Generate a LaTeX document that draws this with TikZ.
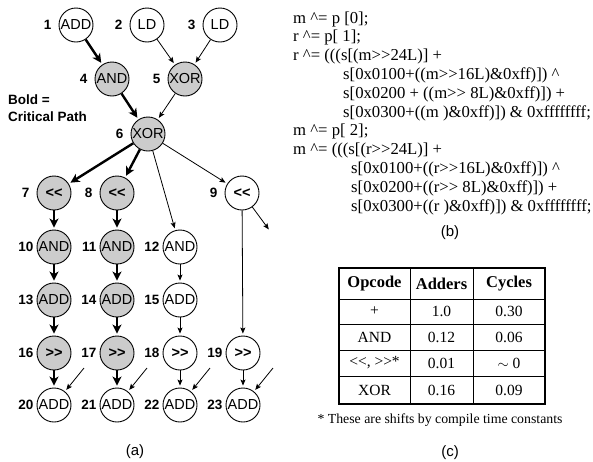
\documentclass[tikz,border=0pt]{standalone}
\usepackage{fontspec}
\setmainfont{Liberation Serif}
\setsansfont{Liberation Sans}
\usepackage{tikz}
\usetikzlibrary{positioning,calc,arrows.meta}

\newcommand{\shl}{<\kern0pt<}
\newcommand{\shr}{>\kern0pt>}

\tikzset{
  op/.style={circle,draw,line width=0.9pt,minimum size=34pt,inner sep=0pt,
    font=\sffamily\fontsize{14.5}{15}\selectfont},
  crit/.style={op,fill=black!20},
  num/.style={font=\sffamily\bfseries\fontsize{13.5}{14}\selectfont,inner sep=0pt},
  edge/.style={line width=0.8pt,shorten >=2pt,-{Stealth[length=6pt,width=5pt,inset=1.2pt]}},
  crit edge/.style={line width=2.4pt,shorten >=2pt,-{Stealth[length=9pt,width=9pt,inset=2.5pt]}},
  codeline/.style={anchor=base west,inner sep=0pt,font=\fontsize{16.7}{18}\selectfont},
  cell/.style={inner sep=0pt,font=\fontsize{15.5}{16}\selectfont},
  caption/.style={font=\sffamily\fontsize{15}{16}\selectfont}
}

\begin{document}
\begin{tikzpicture}[x=1pt,y=-1pt]
       \useasboundingbox (0,0) rectangle (593,461);

       %(a) graph
       \foreach \n/\x/\y/\s/\t in {1/76/25/op/ADD,2/147/25/op/LD,3/220/25/op/LD,
         4/112/79/crit/AND,5/185/79/crit/XOR,6/148/134/crit/XOR,
         7/54/193/crit/\textbf{\shl},8/117/193/crit/\textbf{\shl},9/242/193/op/\textbf{\shl}}  {
       	\node[\s] (n\n) at (\x,\y) {\t};
       	\node[num,left=7pt of n\n] (l\n) {\n};
       }

       \foreach \n/\x/\y/\s/\t in {10/54/247/crit/AND,11/117/247/crit/AND,12/180/247/op/AND,
         13/54/300/crit/ADD,14/117/300/crit/ADD,15/180/300/op/ADD,
         16/54/353/crit/\textbf{\shr},17/117/353/crit/\textbf{\shr},18/180/353/op/\textbf{\shr},19/243/353/op/\textbf{\shr},
         20/54/405/op/ADD,21/117/405/op/ADD,22/180/405/op/ADD,23/243/405/op/ADD}  {
       	\node[\s] (n\n) at (\x,\y) {\t};
       	\node[num,left=3pt of n\n] (l\n) {\n};
       }

       \foreach \a/\b in {1/4,4/6,6/7,6/8,7/10,10/13,13/16,16/20,8/11,11/14,14/17,17/21}
       	\draw[crit edge] (n\a) -- (n\b);

       \foreach \a/\b in {2/5,3/5,5/6,6/12,6/9,9/19,12/15,15/18,18/22,19/23}
       	\draw[edge] (n\a) -- (n\b);

       \coordinate (out9) at (270,231);
       \draw[edge] (n9) -- (out9);

       \foreach \n in {20,...,23}  {
       	\coordinate (in\n) at ($(n\n)+(30,-37)$);
       	\draw[edge] (in\n) -- (n\n);
       }

       \node[num,anchor=west,align=left,font=\sffamily\bfseries\fontsize{13.5}{17}\selectfont]
         (critnote) at (8,108) {Bold =\\Critical Path};

       \node[caption] (capa) at (135,452) {(a)};

       %(b) code
       \node[codeline] (c1) at (293,23) {m \textasciicircum= p [0];};
       \node[codeline] (c2) at (293,41.8) {r \textasciicircum= p[ 1];};
       \node[codeline] (c3) at (293,60.6) {r \textasciicircum= (((s[(m\shr24L)] +};
       \node[codeline] (c4) at (343,79.4) {s[0x0100+((m\shr16L)\&0xff)]) \textasciicircum};
       \node[codeline] (c5) at (343,98.2) {s[0x0200 + ((m\shr\ 8L)\&0xff)]) +};
       \node[codeline] (c6) at (343,117) {s[0x0300+((m )\&0xff)]) \& 0xffffffff;};
       \node[codeline] (c7) at (293,135.8) {m \textasciicircum= p[ 2];};
       \node[codeline] (c8) at (293,154.6) {m \textasciicircum= (((s[(r\shr24L)] +};
       \node[codeline] (c9) at (351,173.4) {s[0x0100+((r\shr16L)\&0xff)]) \textasciicircum};
       \node[codeline] (c10) at (351,192.2) {s[0x0200+((r\shr\ 8L)\&0xff)]) +};
       \node[codeline] (c11) at (351,211) {s[0x0300+((r )\&0xff)]) \& 0xffffffff;};

       \node[caption] (capb) at (450,233) {(b)};

       %(c) table
       \draw[line width=0.9pt] (339,299) -- (545,299);
       \draw[line width=0.9pt] (339,324) -- (545,324);
       \draw[line width=0.9pt] (339,350) -- (545,350);
       \draw[line width=0.9pt] (339,376) -- (545,376);
       \draw[line width=0.9pt] (410,268) -- (410,404);
       \draw[line width=0.9pt] (473,268) -- (473,404);
       \draw[line width=2pt] (339,268) rectangle (545,404);

       \node[cell,font=\bfseries\fontsize{16.5}{17}\selectfont] (h1) at (374.5,283.5) {Opcode};
       \node[cell,font=\bfseries\fontsize{16.5}{17}\selectfont] (h2) at (441.5,283.5) {Adders};
       \node[cell,font=\bfseries\fontsize{16.5}{17}\selectfont] (h3) at (509,283.5) {Cycles};

       \node[cell] (a1) at (374.5,311.5) {+};
       \node[cell] (a2) at (441.5,311.5) {1.0};
       \node[cell] (a3) at (509,311.5) {0.30};

       \node[cell] (b1) at (374.5,337) {AND};
       \node[cell] (b2) at (441.5,337) {0.12};
       \node[cell] (b3) at (509,337) {0.06};

       \node[cell] (d1) at (374.5,363) {\shl, \shr*};
       \node[cell] (d2) at (441.5,363) {0.01};
       \node[cell] (d3) at (509,363) {$\sim$ 0};

       \node[cell] (e1) at (374.5,390) {XOR};
       \node[cell] (e2) at (441.5,390) {0.16};
       \node[cell] (e3) at (509,390) {0.09};

       \node[cell,font=\fontsize{13.8}{14}\selectfont] (foot) at (440,420) {* These are shifts by compile time constants};

       \node[caption] (capc) at (450,453) {(c)};

\end{tikzpicture}
\end{document}
